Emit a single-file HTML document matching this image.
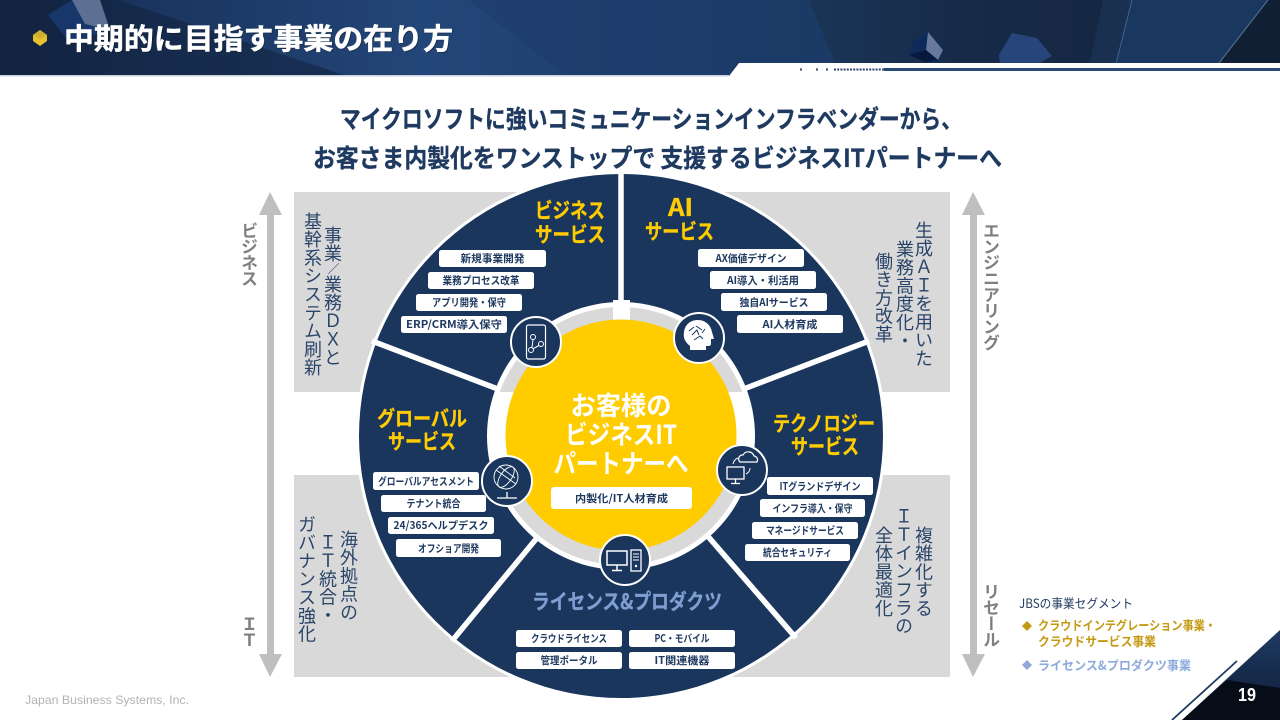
<!DOCTYPE html>
<html lang="ja"><head><meta charset="utf-8">
<style>
html,body{margin:0;padding:0;background:#fff}
#p{position:relative;width:1280px;height:720px;overflow:hidden;background:#fff;font-family:"Liberation Sans","Noto Sans CJK JP",sans-serif}
svg{position:absolute;left:0;top:0}
svg text{font-family:"Noto Sans CJK JP","Liberation Sans",sans-serif}
.v{position:absolute;writing-mode:vertical-rl;font-family:"Noto Sans CJK JP",sans-serif;white-space:nowrap;line-height:20px;width:20px}
.c{font-size:18px;letter-spacing:.3px;color:#2a4569}
.s{font-size:17px;font-weight:700;color:#7f7f7f;letter-spacing:-1px}
</style></head><body><div id="p">
<svg width="1280" height="720" viewBox="0 0 1280 720" xmlns="http://www.w3.org/2000/svg">
<defs>
<linearGradient id="h" x1="0" x2="1" y1="0" y2="0">
<stop offset="0" stop-color="#12233f"/><stop offset=".12" stop-color="#1a3560"/><stop offset=".33" stop-color="#234678"/><stop offset=".5" stop-color="#1f3f6f"/><stop offset=".68" stop-color="#1c3a63"/><stop offset=".8" stop-color="#182e4f"/><stop offset="1" stop-color="#122137"/>
</linearGradient>
<linearGradient id="f" x1="0" x2="1" y1="0" y2="0"><stop offset="0" stop-color="#1a3557"/><stop offset=".5" stop-color="#172b49"/><stop offset="1" stop-color="#152742"/></linearGradient>
<linearGradient id="cn" x1="0" x2="0" y1="0" y2="1"><stop offset="0" stop-color="#1f3a63"/><stop offset="1" stop-color="#0e1c33"/></linearGradient>
<clipPath id="rc"><path d="M0 0H1280V392H0ZM0 475H1280V720H0Z"/></clipPath>
<clipPath id="hc"><path d="M0 0H1280V63H739L729 76H0Z"/></clipPath>
</defs>
<!-- header -->
<g clip-path="url(#hc)">
<rect width="1280" height="76" fill="url(#h)"/>
<path d="M469 0H1000V76H565Z" fill="#1c3a67" opacity=".4"/>
<path d="M0 0H118L347 76H0Z" fill="#12233f" opacity=".6"/>
<path d="M48 15L72 0H100L110 30L70 43Z" fill="#17376a"/>
<path d="M72 0H100L110 30L85 24Z" fill="#5d6f93"/>
<path d="M809 0H1103L1087 76H840Z" fill="url(#f)"/>
<path d="M1103 0H1132L1113 76H1087Z" fill="#1a3050"/>
<path d="M1132 0H1268L1209 76H1113Z" fill="#1a3760"/>
<path d="M1268 0H1280V76H1209Z" fill="#111f34"/>
<path d="M1132 0L1113 76" stroke="#3e6590" stroke-width="1" fill="none"/>
<path d="M1268 0L1209 76" stroke="#5b7693" stroke-width="1" fill="none"/>
<path d="M909 52L913 42L928 32L944 50L938 62H925Z" fill="#0d2a5a"/>
<path d="M928 32L943 50L938 60L926 50Z" fill="#67789c"/>
<path d="M909 55L926 50L938 60L925 62Z" fill="#08193f"/>
<path d="M1012 33L1037 38L1052 56L1040 63H1000L999 55Z" fill="#27457a"/>
</g>
<rect x="0" y="75" width="729" height="1.5" fill="#c9d2de"/>
<rect x="884" y="68" width="396" height="3" fill="#294a72"/>
<g fill="#2a4569">
<rect x="800" y="68.500" width="2" height="2"/><rect x="816" y="68.500" width="2" height="2"/><rect x="826" y="68.500" width="2" height="2"/>
<path d="M834 69.500H884" stroke="#2a4569" stroke-width="2" stroke-dasharray="2 1.200"/>
</g>
<path d="M33 35L40 30L47 35V41L40 46L33 41Z" fill="#e8c22e"/>
<path d="M33 35L40 30L47 35L40 39Z" fill="#cfae30"/>
<text x="65" y="50" font-size="29" font-weight="700" fill="#000" opacity=".35" textLength="389" lengthAdjust="spacingAndGlyphs">中期的に目指す事業の在り方</text>
<text x="64" y="49" font-size="29" font-weight="700" fill="#fff" textLength="389" lengthAdjust="spacingAndGlyphs" stroke="#fff" stroke-width=".5">中期的に目指す事業の在り方</text>

<!-- headline -->
<text x="340" y="128" font-size="25" font-weight="700" fill="#1f3a60" stroke="#1f3a60" stroke-width=".35" textLength="622" lengthAdjust="spacingAndGlyphs">マイクロソフトに強いコミュニケーションインフラベンダーから、</text>
<text x="313" y="167" font-size="25" font-weight="700" fill="#1f3a60" stroke="#1f3a60" stroke-width=".35" textLength="689" lengthAdjust="spacingAndGlyphs">お客さま内製化をワンストップで 支援するビジネスITパートナーへ</text>

<!-- panels -->
<g fill="#d9d9d9">
<rect x="294" y="192" width="656" height="200"/>
<rect x="294" y="475" width="656" height="202"/>
</g>
<!-- arrows -->
<g fill="#bfbfbf">
<path d="M270 192L282 215H274V654H282L270 677L259 654H267V215H259Z"/>
<path d="M973 192L985 215H977V654H985L973 677L962 654H970V215H962Z"/>
</g>

<!-- wheel -->
<circle cx="621" cy="436" r="265" fill="#fff"/>
<circle cx="621" cy="436" r="262" fill="#1a365d"/>
<g stroke="#fff" stroke-width="5.500" fill="none">
<path d="M621 436V170"/>
<path d="M621 436L372 341"/>
<path d="M621 436L869 341"/>
<path d="M621 436L452 641"/>
<path d="M621 436L796 638"/>
</g>
<circle cx="621" cy="436" r="134" fill="#fff"/>
<circle cx="621" cy="436" r="129" fill="#d9d9d9" clip-path="url(#rc)"/>
<rect x="613" y="300" width="17" height="24" fill="#fff"/>
<circle cx="621" cy="435" r="115.500" fill="#ffcc00"/>

<!-- center text -->
<g font-weight="700" fill="#fff" text-anchor="middle">
<text x="621" y="415" font-size="26" textLength="101" lengthAdjust="spacingAndGlyphs">お客様の</text>
<text x="621" y="444" font-size="26" textLength="112" lengthAdjust="spacingAndGlyphs">ビジネスIT</text>
<text x="621" y="473" font-size="26" textLength="135" lengthAdjust="spacingAndGlyphs">パートナーへ</text>
</g>
<rect x="551" y="487" width="141" height="22" rx="3" fill="#fff"/>
<text x="621.500" y="502" font-size="10.500" font-weight="700" fill="#1f3a60" text-anchor="middle" textLength="93" lengthAdjust="spacingAndGlyphs">内製化/IT人材育成</text>

<!-- segment titles -->
<g font-weight="700" fill="#ffcc00" stroke="#ffcc00" stroke-width=".3">
<text x="535" y="218" font-size="21" textLength="70" lengthAdjust="spacingAndGlyphs">ビジネス</text>
<text x="535" y="242" font-size="21" textLength="70" lengthAdjust="spacingAndGlyphs">サービス</text>
<text x="668" y="216" font-size="24" textLength="25" lengthAdjust="spacingAndGlyphs">AI</text>
<text x="645" y="239" font-size="21" textLength="69" lengthAdjust="spacingAndGlyphs">サービス</text>
<text x="377" y="426" font-size="21" textLength="90" lengthAdjust="spacingAndGlyphs">グローバル</text>
<text x="388" y="449" font-size="21" textLength="68" lengthAdjust="spacingAndGlyphs">サービス</text>
<text x="773" y="431" font-size="21" textLength="102" lengthAdjust="spacingAndGlyphs">テクノロジー</text>
<text x="791" y="454" font-size="21" textLength="68" lengthAdjust="spacingAndGlyphs">サービス</text>
</g>
<text x="532" y="609" font-size="21" font-weight="700" fill="#7f9fd2" stroke="#7f9fd2" stroke-width=".3" textLength="190" lengthAdjust="spacingAndGlyphs">ライセンス&amp;プロダクツ</text>

<!-- pills -->
<g fill="#fff">
<rect x="439" y="250" width="107" height="17" rx="2.500"/><rect x="428" y="272" width="106" height="17" rx="2.500"/><rect x="416" y="294" width="106" height="17" rx="2.500"/><rect x="401" y="316" width="106" height="17" rx="2.500"/>
<rect x="698" y="249" width="106" height="18" rx="2.500"/><rect x="710" y="271" width="106" height="18" rx="2.500"/><rect x="721" y="293" width="106" height="18" rx="2.500"/><rect x="737" y="315" width="106" height="18" rx="2.500"/>
<rect x="373" y="472" width="106" height="18" rx="2.500"/><rect x="381" y="495" width="105" height="17" rx="2.500"/><rect x="388" y="517" width="106" height="17" rx="2.500"/><rect x="396" y="539" width="105" height="18" rx="2.500"/>
<rect x="767" y="477" width="106" height="18" rx="2.500"/><rect x="760" y="499" width="105" height="18" rx="2.500"/><rect x="752" y="522" width="106" height="17" rx="2.500"/><rect x="745" y="544" width="105" height="17" rx="2.500"/>
<rect x="516" y="630" width="106" height="17" rx="2.500"/><rect x="516" y="652" width="106" height="17" rx="2.500"/><rect x="629" y="630" width="106" height="17" rx="2.500"/><rect x="629" y="652" width="106" height="17" rx="2.500"/>
</g>
<g font-size="10.500" font-weight="700" fill="#1f3a60" text-anchor="middle">
<text x="492.500" y="262" textLength="64" lengthAdjust="spacingAndGlyphs">新規事業開発</text>
<text x="481" y="284" textLength="77" lengthAdjust="spacingAndGlyphs">業務プロセス改革</text>
<text x="469" y="306" textLength="74" lengthAdjust="spacingAndGlyphs">アプリ開発・保守</text>
<text x="454" y="328" textLength="96" lengthAdjust="spacingAndGlyphs">ERP/CRM導入保守</text>
<text x="751" y="262" textLength="71" lengthAdjust="spacingAndGlyphs">AX価値デザイン</text>
<text x="763" y="284" textLength="72" lengthAdjust="spacingAndGlyphs">AI導入・利活用</text>
<text x="774" y="306" textLength="69" lengthAdjust="spacingAndGlyphs">独自AIサービス</text>
<text x="790" y="328" textLength="55" lengthAdjust="spacingAndGlyphs">AI人材育成</text>
<text x="426" y="485" textLength="96" lengthAdjust="spacingAndGlyphs">グローバルアセスメント</text>
<text x="433.500" y="507" textLength="54" lengthAdjust="spacingAndGlyphs">テナント統合</text>
<text x="441" y="529" textLength="95" lengthAdjust="spacingAndGlyphs">24/365ヘルプデスク</text>
<text x="448.500" y="552" textLength="61" lengthAdjust="spacingAndGlyphs">オフショア開発</text>
<text x="820" y="490" textLength="81" lengthAdjust="spacingAndGlyphs">ITグランドデザイン</text>
<text x="812.500" y="512" textLength="80" lengthAdjust="spacingAndGlyphs">インフラ導入・保守</text>
<text x="805" y="534" textLength="78" lengthAdjust="spacingAndGlyphs">マネージドサービス</text>
<text x="797.500" y="556" textLength="69" lengthAdjust="spacingAndGlyphs">統合セキュリティ</text>
<text x="569" y="642" textLength="76" lengthAdjust="spacingAndGlyphs">クラウドライセンス</text>
<text x="569" y="664" textLength="57" lengthAdjust="spacingAndGlyphs">管理ポータル</text>
<text x="682" y="642" textLength="55" lengthAdjust="spacingAndGlyphs">PC・モバイル</text>
<text x="682" y="664" textLength="55" lengthAdjust="spacingAndGlyphs">IT関連機器</text>
</g>

<!-- icon circles -->
<g fill="#1a365d" stroke="#fff" stroke-width="2">
<circle cx="536" cy="342" r="25"/><circle cx="699" cy="338" r="25"/><circle cx="507" cy="481" r="25"/><circle cx="742" cy="470" r="25"/><circle cx="625" cy="560" r="25"/>
</g>
<g fill="none" stroke="#fff" stroke-width="1">
<!-- phone -->
<rect x="526.500" y="325" width="19" height="34" rx="2" stroke-width="1.200"/>
<circle cx="533" cy="337" r="2.500"/><circle cx="541" cy="344" r="2.500"/><circle cx="531" cy="350" r="2.500"/>
<path d="M533 339.500L532 347.500M533.500 348.500L539 345.500"/>
<!-- globe -->
<circle cx="506" cy="477" r="12" stroke-width=".9"/><ellipse cx="506" cy="477" rx="5.500" ry="12" transform="rotate(35 506 477)" stroke-width=".9"/>
<path d="M496 470L516 484M499 466L515 478" stroke-width=".9"/>
<path d="M497 498H517M507 492V498" stroke-width="1.300"/>
<!-- cloud -->
<path d="M740 462A4 4 0 0 1 743 455A6 6 0 0 1 754 456A4 4 0 0 1 757 462Z" stroke-width="1.200"/>
<rect x="727" y="467" width="17" height="12" stroke-width="1.300"/>
<path d="M735.500 479V483M731 483.500H740" stroke-width="1.300"/>
<path d="M733 464A8 8 0 0 1 738 458M750 468A7 7 0 0 1 746 474"/>
<!-- pc -->
<rect x="607" y="551" width="20" height="14" stroke-width="1.500"/>
<path d="M617 565V570M612 570.500H622" stroke-width="1.500"/>
<rect x="631" y="550" width="10" height="21" stroke-width="1.300"/>
<path d="M633 554H639M633 557H639M633 560H639" />
</g>
<circle cx="636" cy="566" r="1.200" fill="#fff"/>
<!-- head -->
<path d="M690 350V346C685 342 683 338 684 332C685 324 691 320 698 320C706 320 711 326 712 332L714 339H711V344C711 346 709 346 706 346V350Z" fill="#fff"/>
<path d="M689 331L694 327M692 335L697 330L699 335M696 326L702 330M702 333L705 329M694 340L700 336L703 339" stroke="#1a365d" stroke-width="1" fill="none"/>

<!-- legend -->
<text x="1019" y="608" font-size="12.500" fill="#1f3a60" textLength="114" lengthAdjust="spacingAndGlyphs">JBSの事業セグメント</text>
<path d="M1027 621L1032 626L1027 631L1022 626Z" fill="#c49a14"/>
<text x="1038" y="630" font-size="12.500" font-weight="700" fill="#c49a14" textLength="178" lengthAdjust="spacingAndGlyphs">クラウドインテグレーション事業・</text>
<text x="1038" y="646" font-size="12.500" font-weight="700" fill="#c49a14" textLength="118" lengthAdjust="spacingAndGlyphs">クラウドサービス事業</text>
<path d="M1027 660L1032 665L1027 670L1022 665Z" fill="#8eaadb"/>
<text x="1038" y="670" font-size="12.500" font-weight="700" fill="#8eaadb" textLength="153" lengthAdjust="spacingAndGlyphs">ライセンス&amp;プロダクツ事業</text>

<!-- footer -->
<text x="25" y="704" font-size="12" fill="#b3b3b3" textLength="164" lengthAdjust="spacingAndGlyphs" style="font-family:'Liberation Sans',sans-serif">Japan Business Systems, Inc.</text>
<path d="M1182 720L1280 630V720Z" fill="url(#cn)"/>
<path d="M1227 680L1280 688V720H1182Z" fill="#060c18"/>
<path d="M1172 720L1237 661" stroke="#1f3a60" stroke-width="1.800"/>
<text x="1238" y="701" font-size="18" font-weight="700" fill="#fff" style="font-family:'Liberation Sans',sans-serif" textLength="18" lengthAdjust="spacingAndGlyphs">19</text>
</svg>

<!-- vertical captions -->
<div class="v c" style="left:323px;top:226px">事業<span style="font-size:12px">／</span>業務ＤＸと</div>
<div class="v c" style="left:303px;top:212px">基幹系システム刷新</div>
<div class="v c" style="left:914px;top:221px">生成ＡＩを用いた</div>
<div class="v c" style="left:895px;top:240px">業務高度化・</div>
<div class="v c" style="left:874px;top:252px">働き方改革</div>
<div class="v c" style="left:339px;top:530px">海外拠点の</div>
<div class="v c" style="left:318px;top:533px">ＩＴ統合・</div>
<div class="v c" style="left:297px;top:515px">ガバナンス強化</div>
<div class="v c" style="left:914px;top:526px">複雑化する</div>
<div class="v c" style="left:894px;top:507px">ＩＴインフラの</div>
<div class="v c" style="left:874px;top:526px">全体最適化</div>
<div class="v s" style="left:239px;top:222px">ビジネス</div>
<div class="v s" style="left:239px;top:615px">ＩＴ</div>
<div class="v s" style="left:981px;top:222px">エンジニアリング</div>
<div class="v s" style="left:981px;top:583px">リセール</div>
</div></body></html>
